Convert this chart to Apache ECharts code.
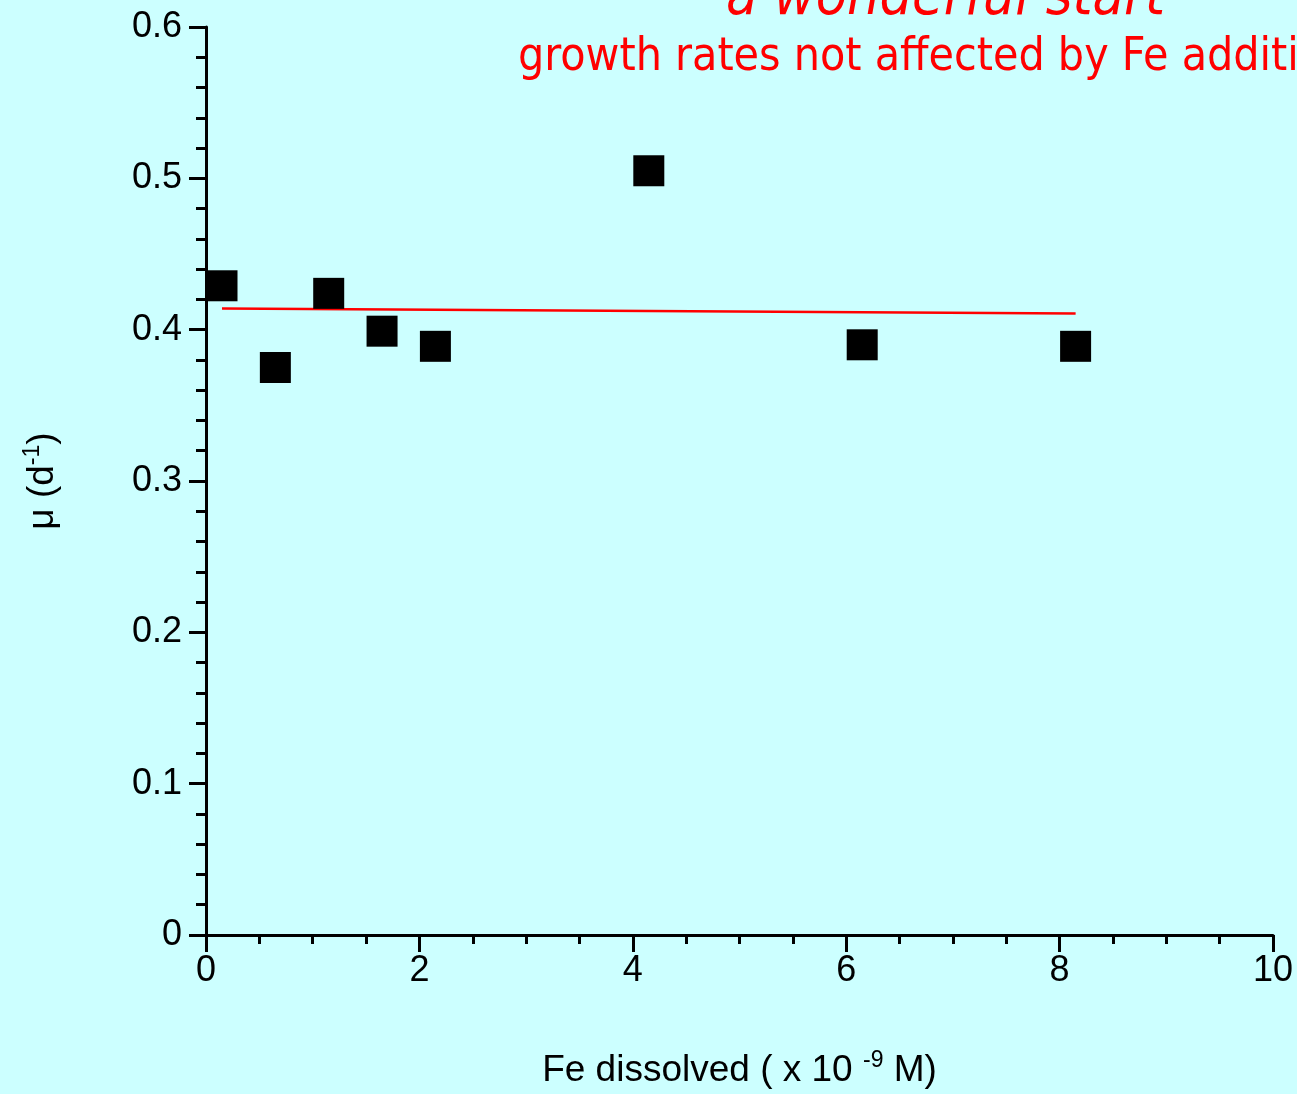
<!DOCTYPE html>
<html>
<head>
<meta charset="utf-8">
<script src="https://cdn.jsdelivr.net/npm/echarts@6/dist/echarts.min.js"></script>
<style>
html,body{margin:0;padding:0;background:#ccffff;}
#chart{width:1297px;height:1094px;}
</style>
</head>
<body>
<div id="chart"></div>
<script>
// Data
var feDissolved = [0.15, 0.65, 1.15, 1.65, 2.15, 4.15, 6.15, 8.15];
var growthRate = [0.429, 0.375, 0.424, 0.399, 0.389, 0.505, 0.390, 0.389];
var fitX = [0.15, 8.15];
var fitY = [0.414, 0.4107];
var titleText = 'a wonderful start';
var subtitleText = 'growth rates not affected by Fe additions';

var chart = echarts.init(document.getElementById('chart'));
var font = 'Liberation Sans, Arial, sans-serif';
var narrow = '"Liberation Sans Narrow", "DejaVu Sans Condensed", sans-serif';

chart.setOption({
  backgroundColor: '#ccffff',
  animation: false,
  grid: {left: 206, right: 24, top: 27, bottom: 146, containLabel: false},
  graphic: [
    {type: 'text', left: 726, top: -29, z: 10,
     style: {text: titleText, fill: '#ff0000', font: 'italic 57px ' + narrow}},
    {type: 'text', left: 518, top: 35, z: 10,
     style: {text: subtitleText, fill: '#ff0000', font: '46px ' + narrow}}
  ],
  xAxis: {
    type: 'value', min: 0, max: 10, interval: 2,
    splitLine: {show: false},
    axisLine: {onZero: false, lineStyle: {color: '#000', width: 3}},
    axisTick: {length: 17, lineStyle: {color: '#000', width: 3}},
    minorTick: {show: true, splitNumber: 4, length: 9, lineStyle: {color: '#000', width: 3}},
    axisLabel: {color: '#000', fontFamily: font, fontSize: 36, margin: 18},
    name: '{a|Fe dissolved ( x 10 }{s|-9}{a| M)}',
    nameLocation: 'middle', nameGap: 114,
    nameTextStyle: {rich: {
      a: {fontFamily: font, fontSize: 37, color: '#000', verticalAlign: 'bottom', lineHeight: 40},
      s: {fontFamily: font, fontSize: 23, color: '#000', verticalAlign: 'top', lineHeight: 40, padding: [0, 0, 16, 0]}
    }}
  },
  yAxis: {
    type: 'value', min: 0, max: 0.6, interval: 0.1,
    splitLine: {show: false},
    axisLine: {onZero: false, lineStyle: {color: '#000', width: 3}},
    axisTick: {length: 17, lineStyle: {color: '#000', width: 3}},
    minorTick: {show: true, splitNumber: 5, length: 10, lineStyle: {color: '#000', width: 3}},
    axisLabel: {color: '#000', fontFamily: font, fontSize: 36, margin: 24,
      formatter: function (v) { return v === 0 ? '0' : v.toFixed(1); }},
    name: '{a|μ (d}{s|-1}{a|)}',
    nameLocation: 'middle', nameGap: 145, nameRotate: 90,
    nameTextStyle: {rich: {
      a: {fontFamily: font, fontSize: 37, color: '#000', verticalAlign: 'bottom', lineHeight: 40},
      s: {fontFamily: font, fontSize: 23, color: '#000', verticalAlign: 'top', lineHeight: 40}
    }}
  },
  series: [
    {type: 'line', data: fitX.map(function (x, i) { return [x, fitY[i]]; }),
     showSymbol: false, symbol: 'none', z: 1,
     lineStyle: {color: '#ff0000', width: 2.5}},
    {type: 'scatter', data: feDissolved.map(function (x, i) { return [x, growthRate[i]]; }),
     symbol: 'rect', symbolSize: 31, z: 2,
     itemStyle: {color: '#000', opacity: 1}}
  ]
});
</script>
</body>
</html>
